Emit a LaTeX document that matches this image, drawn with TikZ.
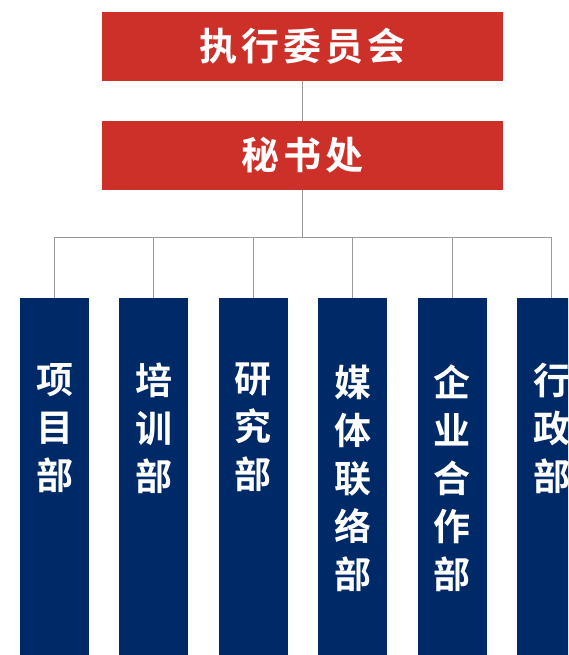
\documentclass[tikz,border=0pt]{standalone}
\usepackage{fontspec}
\newfontfamily\cjk{Noto Sans CJK SC}[BoldFont={Noto Sans CJK SC Bold}]
\usetikzlibrary{positioning, calc}
\definecolor{boardred}{RGB}{204,48,41}
\definecolor{deptblue}{RGB}{0,41,104}
\definecolor{wiregray}{RGB}{153,153,153}
\tikzset{
    my-top-box/.style={
        fill=boardred, draw=none, minimum width=400.5pt, minimum height=68.5pt, inner sep=0pt,
        text=white, font=\cjk\bfseries\fontsize{38}{38}\selectfont
    },
    my-dept-box/.style={
        fill=deptblue, draw=none, minimum width=69pt, minimum height=357pt, inner sep=0pt, anchor=north
    },
    my-dept-text/.style={
        text=white, align=center, inner sep=0pt, font=\cjk\bfseries\fontsize{37}{48}\selectfont
    },
    my-wire/.style={
        draw=wiregray, line width=1pt
    },
}

\begin{document}
\begin{tikzpicture}[x=1pt, y=-1pt]

        % PAGE FRAME -----------------------------------------------------------------------------------
        \useasboundingbox (0, 0) rectangle (568, 655);
        \clip (0, 0) rectangle (568, 655);

        % TOP LEVEL
        \node[my-top-box] (EXEC) at (302.3, 46.3)  {执\hspace{4pt}行\hspace{4pt}委\hspace{4pt}员\hspace{4pt}会};
        \node[my-top-box] (SECR) at (302.3, 155.5) {秘\hspace{4pt}书\hspace{4pt}处};

        % DEPARTMENTS ----------------------------------------------------------------------------------
        \node[my-dept-box] (DEPT1) at (54.5, 298)  {};
        \node[my-dept-box] (DEPT2) at (153.9, 298) {};
        \node[my-dept-box] (DEPT3) at (253.3, 298) {};
        \node[my-dept-box] (DEPT4) at (352.7, 298) {};
        \node[my-dept-box] (DEPT5) at (452.1, 298) {};
        \node[my-dept-box] (DEPT6) at (551.5, 298) {};

        % DEPARTMENT NAMES
        \node[my-dept-text, below=65pt of DEPT1.north] (DEPT1TXT) {项\\目\\部};
        \node[my-dept-text, below=65pt of DEPT2.north] (DEPT2TXT) {培\\训\\部};
        \node[my-dept-text, below=65pt of DEPT3.north] (DEPT3TXT) {研\\究\\部};
        \node[my-dept-text, below=67pt of DEPT4.north] (DEPT4TXT) {媒\\体\\联\\络\\部};
        \node[my-dept-text, below=67pt of DEPT5.north] (DEPT5TXT) {企\\业\\合\\作\\部};
        \node[my-dept-text, below=65pt of DEPT6.north] (DEPT6TXT) {行\\政\\部};

        % WIRES ----------------------------------------------------------------------------------------
        \coordinate (BUS) at ($(SECR.south) + (0, 48)$);
        \draw[my-wire] (EXEC.south) -- (SECR.north);
        \draw[my-wire] (SECR.south) -- (BUS);
        \draw[my-wire] (BUS) -| (DEPT1.north);
        \draw[my-wire] (BUS) -| (DEPT2.north);
        \draw[my-wire] (BUS) -| (DEPT3.north);
        \draw[my-wire] (BUS) -| (DEPT4.north);
        \draw[my-wire] (BUS) -| (DEPT5.north);
        \draw[my-wire] (BUS) -| (DEPT6.north);

\end{tikzpicture}
\end{document}
